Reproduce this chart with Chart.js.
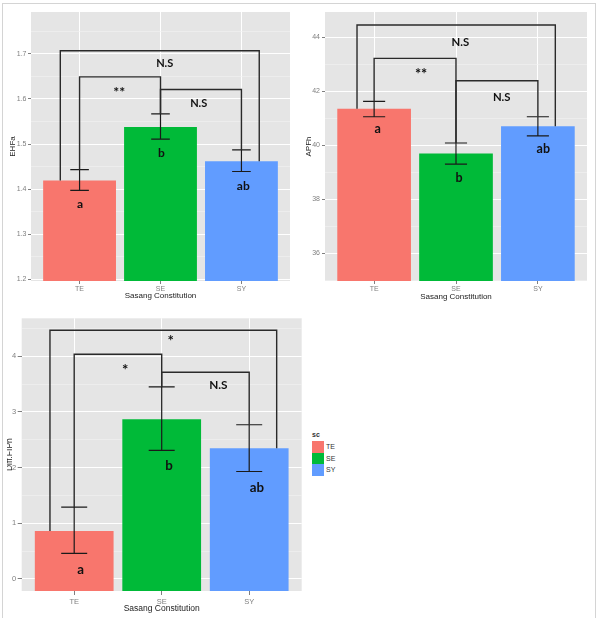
<!DOCTYPE html>
<html>
<head>
<meta charset="utf-8">
<script src="https://cdn.jsdelivr.net/npm/chart.js@4.4.0/dist/chart.umd.min.js"></script>
<style>
html,body{margin:0;padding:0;background:#fff;}
#page{position:relative;width:597px;height:618px;overflow:hidden;background:#fff;}
#frame{position:absolute;left:2px;top:3px;width:594px;height:640px;border:1px solid #d4d4d4;box-sizing:border-box;}
canvas{position:absolute;}
#c1{left:0;top:0;}
#c2{left:297px;top:0;}
#c3{left:7px;top:305px;}
#legend{position:absolute;left:312px;top:430px;font-family:'Liberation Sans',Arial,sans-serif;font-size:7px;color:#333;}
</style>
</head>
<body>
<div id="page">
  <div id="frame"></div>
  <canvas id="c1" width="300" height="305"></canvas>
  <canvas id="c2" width="300" height="305"></canvas>
  <canvas id="c3" width="300" height="313"></canvas>
  <div id="legend"></div>
</div>
<script>
// ---------------- data ----------------
const categories = ['TE', 'SE', 'SY'];
const groupLetters = ['a', 'b', 'ab'];
const legendTitle = 'sc';
const xAxisTitle = 'Sasang Constitution';
const pairs = [[0, 1], [1, 2], [0, 2]];

// EHFa
const ehfaMean = [1.419, 1.538, 1.462];
const ehfaLow  = [1.397, 1.511, 1.439];
const ehfaHigh = [1.443, 1.567, 1.487];
const ehfaTicks = [1.2, 1.3, 1.4, 1.5, 1.6, 1.7];
const ehfaSig = ['**', 'N.S', 'N.S'];
const ehfaBracketY = [1.649, 1.621, 1.707];
const ehfaSigPos = [[1.491, 1.620], [2.472, 1.592], [2.052, 1.679]];
const ehfaLetterPos = [[1.005, 1.365], [2.01, 1.481], [3.023, 1.408]];

// APFh
const apfhMean = [41.35, 39.69, 40.70];
const apfhLow  = [41.05, 39.30, 40.34];
const apfhHigh = [41.62, 40.08, 41.05];
const apfhTicks = [36, 38, 40, 42, 44];
const apfhSig = ['**', 'N.S', 'N.S'];
const apfhBracketY = [43.21, 42.38, 44.444];
const apfhSigPos = [[1.573, 42.73], [2.558, 41.78], [2.053, 43.83]];
const apfhLetterPos = [[1.044, 40.59], [2.037, 38.81], [3.066, 39.91]];

// Diff.FIPh
const diffMean = [0.86, 2.87, 2.35];
const diffLow  = [0.46, 2.31, 1.93];
const diffHigh = [1.29, 3.45, 2.77];
const diffTicks = [0, 1, 2, 3, 4];
const diffSig = ['*', 'N.S', '*'];
const diffBracketY = [4.036, 3.713, 4.467];
const diffSigPos = [[1.584, 3.808], [2.647, 3.485], [2.103, 4.323]];
const diffLetterPos = [[1.074, 0.156], [2.083, 2.048], [3.089, 1.658]];

// ---------------- styles ----------------
const barColors = ['#F8766D', '#00BA38', '#619CFF'];
const F = "'Liberation Sans', Arial, sans-serif";
const FA = "Lato, 'Open Sans', sans-serif";

function decor(p) {
  return {
    id: 'decor_' + p.id,
    beforeDraw(chart) {
      const a = chart.chartArea, ctx = chart.ctx;
      ctx.save();
      ctx.fillStyle = '#E5E5E5';
      ctx.fillRect(a.left, a.top, a.right - a.left, a.bottom - a.top);
      ctx.restore();
    },
    afterDatasetsDraw(chart) {
      const ctx = chart.ctx, xs = chart.scales.x, ys = chart.scales.y;
      const X = v => xs.getPixelForValue(v), Y = v => ys.getPixelForValue(v);
      ctx.save();
      // error bars
      ctx.strokeStyle = '#1a1a1a';
      ctx.lineWidth = 1.2;
      categories.forEach((c, i) => {
        const x = i + 1, hw = p.cap / 2;
        ctx.beginPath();
        ctx.moveTo(X(x), Y(p.low[i])); ctx.lineTo(X(x), Y(p.high[i]));
        ctx.moveTo(X(x - hw), Y(p.high[i])); ctx.lineTo(X(x + hw), Y(p.high[i]));
        ctx.moveTo(X(x - hw), Y(p.low[i])); ctx.lineTo(X(x + hw), Y(p.low[i]));
        ctx.stroke();
      });
      // brackets
      ctx.strokeStyle = '#2a2a2a';
      ctx.lineWidth = 1.4;
      ctx.lineJoin = 'miter';
      pairs.forEach(([a, b], k) => {
        const outer = (b - a) > 1;
        const xa = a + 1 + (outer ? p.outerOffset[0] : 0);
        const xb = b + 1 + (outer ? p.outerOffset[1] : 0);
        const ya = outer ? p.mean[a] : p.high[a];
        const yb = outer ? p.mean[b] : p.high[b];
        ctx.beginPath();
        ctx.moveTo(X(xa), Y(ya));
        ctx.lineTo(X(xa), Y(p.bracketY[k]));
        ctx.lineTo(X(xb), Y(p.bracketY[k]));
        ctx.lineTo(X(xb), Y(yb));
        ctx.stroke();
      });
      // texts
      const txt = (s, x, y, font) => {
        ctx.font = font;
        ctx.textAlign = 'center';
        ctx.textBaseline = 'alphabetic';
        const m = ctx.measureText(s);
        const asc = m.actualBoundingBoxAscent, desc = m.actualBoundingBoxDescent;
        ctx.fillText(s, X(x), Y(y) + (asc - desc) / 2);
      };
      ctx.fillStyle = '#111';
      p.sig.forEach((s, k) => {
        const size = s.indexOf('*') >= 0 ? p.starSize : p.sigSize;
        txt(s, p.sigPos[k][0], p.sigPos[k][1], 'bold ' + size + 'px ' + FA);
      });
      groupLetters.forEach((s, i) => txt(s, p.letterPos[i][0], p.letterPos[i][1], 'bold ' + p.letterSize + 'px ' + FA));
      ctx.restore();
    }
  };
}

function makeChart(p) {
  const majors = p.ticks;
  const step = majors[1] - majors[0];
  const all = [];
  for (let v = majors[0] - step; v <= majors[majors.length - 1] + step + 1e-9; v += step / 2) {
    if (v >= p.min - 1e-9 && v <= p.max + 1e-9) all.push(+v.toFixed(6));
  }
  const isMajor = v => majors.some(t => Math.abs(t - v) < 1e-6);
  new Chart(document.getElementById(p.id), {
    type: 'bar',
    data: {
      datasets: [{
        data: p.mean.map((m, i) => ({x: i + 1, y: m})),
        backgroundColor: barColors,
        base: p.min,
        categoryPercentage: 1,
        barPercentage: 0.9,
        borderWidth: 0
      }]
    },
    options: {
      responsive: false,
      animation: false,
      events: [],
      devicePixelRatio: 1,
      layout: {padding: p.pad},
      plugins: {legend: {display: false}, tooltip: {enabled: false}},
      scales: {
        x: {
          type: 'linear', min: 0.4, max: 3.6, offset: false,
          afterBuildTicks: s => { s.ticks = categories.map((c, i) => ({value: i + 1})); },
          afterFit: s => { s.height = p.xh; },
          grid: {offset: false, color: '#ffffff', lineWidth: 1, tickColor: '#7f7f7f', tickLength: p.tl},
          border: {display: false},
          ticks: {
            callback: v => categories[Math.round(v) - 1] || '',
            color: '#7f7f7f', font: {family: F, size: p.tickSize},
            padding: p.xtp, maxRotation: 0, autoSkip: false
          },
          title: {display: true, text: xAxisTitle, color: '#222', font: {family: F, size: p.titleSize},
                  padding: {top: 0, bottom: p.xtitlePad}}
        },
        y: {
          min: p.min, max: p.max,
          afterBuildTicks: s => { s.ticks = all.map(v => ({value: v})); },
          afterFit: s => { s.width = p.yw; },
          grid: {
            color: c => (c.tick && !isMajor(c.tick.value)) ? '#F2F2F2' : '#ffffff',
            lineWidth: c => (c.tick && !isMajor(c.tick.value)) ? 0.6 : 1,
            tickColor: c => (c.tick && !isMajor(c.tick.value)) ? 'rgba(0,0,0,0)' : '#7f7f7f',
            tickLength: p.tl
          },
          border: {display: false},
          ticks: {
            callback: v => isMajor(v) ? String(v) : '',
            color: '#7f7f7f', font: {family: F, size: p.tickSize}, padding: p.ytp, autoSkip: false
          },
          title: {display: true, text: p.yTitle, color: '#222',
                  font: {family: F, size: p.titleSize, lineHeight: p.ytitleLH},
                  padding: {top: p.ytitlePad, bottom: 0}}
        }
      }
    },
    plugins: [decor(p)]
  });
}

makeChart({
  id: 'c1', mean: ehfaMean, low: ehfaLow, high: ehfaHigh, ticks: ehfaTicks,
  min: 1.196, max: 1.793, yTitle: 'EHFa', sig: ehfaSig, bracketY: ehfaBracketY,
  sigPos: ehfaSigPos, letterPos: ehfaLetterPos, outerOffset: [-0.238, 0.22], cap: 0.23,
  pad: {left: 0, top: 12, right: 10, bottom: 0}, yw: 31, xh: 24, tl: 3, xtp: 1, ytp: 1.5,
  tickSize: 7, titleSize: 8, xtitlePad: 4.2, ytitlePad: 7.5, ytitleLH: 1.2, letterSize: 12, sigSize: 11, starSize: 14
});
makeChart({
  id: 'c2', mean: apfhMean, low: apfhLow, high: apfhHigh, ticks: apfhTicks,
  min: 34.975, max: 44.925, yTitle: 'APFh', sig: apfhSig, bracketY: apfhBracketY,
  sigPos: apfhSigPos, letterPos: apfhLetterPos, outerOffset: [-0.209, 0.213], cap: 0.27,
  pad: {left: 0, top: 12, right: 10, bottom: 0}, yw: 28, xh: 24, tl: 3, xtp: 1, ytp: 2,
  tickSize: 7, titleSize: 8, xtitlePad: 3.5, ytitlePad: 6.7, ytitleLH: 1.2, letterSize: 12.5, sigSize: 11.3, starSize: 14.5
});
makeChart({
  id: 'c3', mean: diffMean, low: diffLow, high: diffHigh, ticks: diffTicks,
  min: -0.216, max: 4.682, yTitle: 'Diff.FIPh', sig: diffSig, bracketY: diffBracketY,
  sigPos: diffSigPos, letterPos: diffLetterPos, outerOffset: [-0.277, 0.314], cap: 0.297,
  pad: {left: 0, top: 13.3, right: 5.3, bottom: 0}, yw: 14.7, xh: 27, tl: 4, xtp: 2, ytp: 1.5,
  tickSize: 7.5, titleSize: 8.5, xtitlePad: 4.6, ytitlePad: 0.5, ytitleLH: 0.5, letterSize: 13.3, sigSize: 11.8, starSize: 15
});

// legend
const lg = document.getElementById('legend');
let html = '<div style="position:absolute;left:0;top:0;font-weight:bold;line-height:10px;white-space:nowrap">' + legendTitle + '</div>';
categories.forEach((c, i) => {
  const top = 11 + i * 11.5;
  html += '<div style="position:absolute;left:0;top:' + top + 'px;width:12px;height:11.5px;background:' + barColors[i] + '"></div>';
  html += '<div style="position:absolute;left:14px;top:' + top + 'px;line-height:11.5px;white-space:nowrap">' + c + '</div>';
});
lg.innerHTML = html;
</script>
</body>
</html>
